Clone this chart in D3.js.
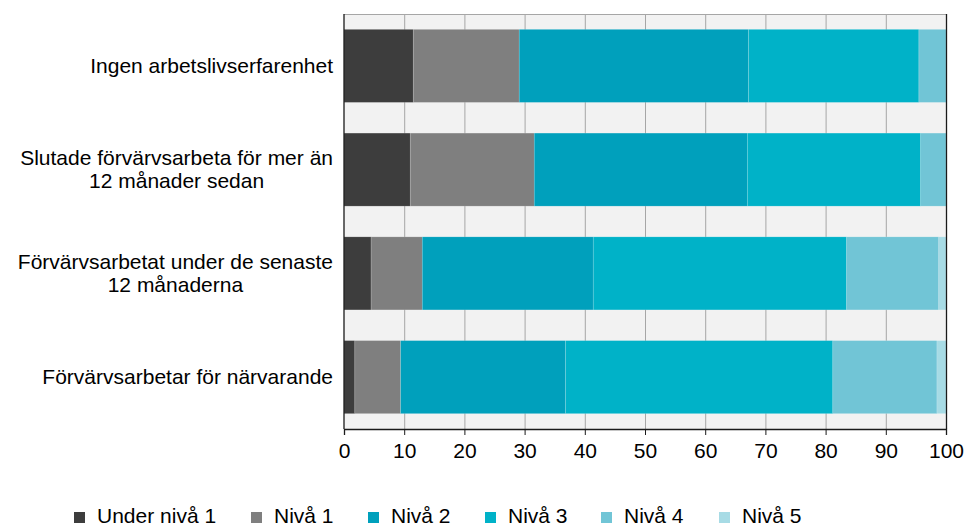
<!DOCTYPE html>
<html><head><meta charset="utf-8">
<script src="https://cdn.jsdelivr.net/npm/d3@7"></script>
<style>
html,body{margin:0;padding:0;background:#fff;}
svg{display:block;font-family:"Liberation Sans",Arial,sans-serif;}
</style></head>
<body>
<svg id="c" width="964" height="526"></svg>
<script>
const categories = [
  ["Ingen arbetslivserfarenhet"],
  ["Slutade förvärvsarbeta för mer än", "12 månader sedan"],
  ["Förvärvsarbetat under de senaste", "12 månaderna"],
  ["Förvärvsarbetar för närvarande"]
];
const seriesNames = ["Under nivå 1", "Nivå 1", "Nivå 2", "Nivå 3", "Nivå 4", "Nivå 5"];
const underNiva1 = [11.5, 11.0, 4.5, 1.8];
const niva1 = [17.6, 20.6, 8.5, 7.6];
const niva2 = [38.1, 35.4, 28.4, 27.4];
const niva3 = [28.3, 28.8, 42.1, 44.4];
const niva4 = [4.5, 4.2, 15.3, 17.3];
const niva5 = [0, 0, 1.2, 1.5];
const xTicks = [0, 10, 20, 30, 40, 50, 60, 70, 80, 90, 100];
const colors = ["#3d3d3d", "#7f7f7f", "#00a0bc", "#00b2c8", "#71c5d6", "#a7dbe5"];

const seriesValues = [underNiva1, niva1, niva2, niva3, niva4, niva5];
const rows = categories.map((c, i) => {
  const r = {key: i};
  seriesNames.forEach((s, j) => r[s] = seriesValues[j][i]);
  return r;
});

const svg = d3.select("#c");
const L = 344, R = 946, T = 14, B = 429;
const FS = 21;
const x = d3.scaleLinear().domain([0, 100]).range([L, R]);
const y = d3.scaleBand().domain(d3.range(categories.length)).range([T, B]).paddingInner(0.296).paddingOuter(0.148);

// background
svg.append("rect").attr("x", L).attr("y", T).attr("width", R - L).attr("height", B - T).attr("fill", "#f2f2f2");
// grid
svg.append("g").selectAll("line").data(xTicks.slice(1, -1)).join("line")
  .attr("x1", d => x(d) + 0.5).attr("x2", d => x(d) + 0.5)
  .attr("y1", T).attr("y2", B).attr("stroke", "#a6a6a6").attr("stroke-width", 1);
// top border
svg.append("line").attr("x1", L).attr("x2", R).attr("y1", T + 0.5).attr("y2", T + 0.5).attr("stroke", "#a6a6a6");

const stack = d3.stack().keys(seriesNames)(rows);
svg.append("g").selectAll("g").data(stack).join("g")
  .attr("fill", (d, i) => colors[i])
  .selectAll("rect").data(d => d).join("rect")
  .attr("x", d => x(d[0]))
  .attr("width", d => Math.max(0, x(d[1]) - x(d[0])))
  .attr("y", (d, i) => y(i))
  .attr("height", y.bandwidth())
  .attr("stroke", "rgba(255,255,255,0.25)").attr("stroke-width", 0.6);

// borders
svg.append("line").attr("x1", R + 0.5).attr("x2", R + 0.5).attr("y1", T).attr("y2", B).attr("stroke", "#1a1a1a").attr("stroke-width", 1.3);
svg.append("line").attr("x1", L).attr("x2", L).attr("y1", T).attr("y2", B).attr("stroke", "#1a1a1a").attr("stroke-width", 1.3);

// x axis
const xAxis = svg.append("g").attr("transform", `translate(0,${B})`)
  .call(d3.axisBottom(x).tickValues(xTicks).tickSize(6).tickPadding(8).tickFormat(d3.format("d")));
xAxis.select(".domain").attr("stroke", "#1a1a1a").attr("stroke-width", 1.3);
xAxis.selectAll(".tick line").attr("stroke", "#1a1a1a").attr("stroke-width", 1);
xAxis.selectAll("text").attr("font-size", FS).attr("fill", "#000").attr("font-family", "Liberation Sans, Arial, sans-serif");

// category labels
const labelRight = 333;
categories.forEach((lines, i) => {
  const g = svg.append("g");
  const texts = lines.map(t => g.append("text").attr("font-size", FS).attr("fill", "#000").text(t));
  const widths = texts.map(t => t.node().getComputedTextLength());
  const maxW = d3.max(widths);
  const cx = labelRight - maxW / 2;
  const cy = y(i) + y.bandwidth() / 2;
  const lh = 23;
  texts.forEach((t, k) => {
    t.attr("x", cx).attr("text-anchor", "middle")
     .attr("y", cy + (k - (lines.length - 1) / 2) * lh).attr("dy", "0.35em");
  });
});

// legend
const legendX = [74, 251, 368, 485, 601, 719];
const lg = svg.append("g");
seriesNames.forEach((s, i) => {
  lg.append("rect").attr("x", legendX[i]).attr("y", 512).attr("width", 11).attr("height", 11).attr("fill", colors[i]);
  lg.append("text").attr("x", legendX[i] + 23).attr("y", 523).attr("font-size", FS).attr("fill", "#000").text(s);
});
</script>
</body></html>
